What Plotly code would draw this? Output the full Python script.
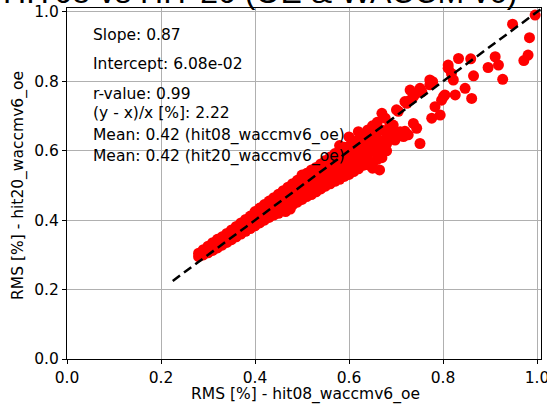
import plotly.graph_objects as go

# Dense band points (x, y)
band_x = [0.28, 0.28, 0.29, 0.29, 0.30, 0.30, 0.31, 0.31, 0.32, 0.32, 0.33, 0.33, 0.34, 0.34,
          0.35, 0.35, 0.35, 0.36, 0.36, 0.36, 0.37, 0.37, 0.37, 0.38, 0.38, 0.38,
          0.39, 0.39, 0.39, 0.40, 0.40, 0.40, 0.41, 0.41, 0.41, 0.42, 0.42, 0.42,
          0.43, 0.43, 0.43, 0.44, 0.44, 0.44,
          0.45, 0.45, 0.45, 0.45, 0.46, 0.46, 0.46, 0.46, 0.47, 0.47, 0.47, 0.47,
          0.48, 0.48, 0.48, 0.48, 0.49, 0.49, 0.49, 0.49, 0.50, 0.50, 0.50, 0.50,
          0.51, 0.51, 0.51, 0.51, 0.52, 0.52, 0.52, 0.52, 0.53, 0.53, 0.53, 0.53,
          0.54, 0.54, 0.54, 0.54, 0.55, 0.55, 0.55, 0.55, 0.56, 0.56, 0.56, 0.56,
          0.57, 0.57, 0.57, 0.57, 0.57, 0.58, 0.58, 0.58, 0.58, 0.58,
          0.59, 0.59, 0.59, 0.59, 0.59, 0.60, 0.60, 0.60, 0.60, 0.60,
          0.61, 0.61, 0.61, 0.61, 0.61, 0.62, 0.62, 0.62, 0.62, 0.62,
          0.63, 0.63, 0.63, 0.63, 0.63, 0.64, 0.64, 0.64, 0.64, 0.64,
          0.65, 0.65, 0.65, 0.65, 0.66, 0.66, 0.66, 0.66,
          0.64, 0.65, 0.66, 0.67, 0.68, 0.665, 0.65, 0.465, 0.475]
band_y = [0.295, 0.305, 0.300, 0.315, 0.306, 0.325, 0.313, 0.335, 0.320, 0.345, 0.328, 0.352, 0.336, 0.362,
          0.344, 0.358, 0.372, 0.352, 0.367, 0.382, 0.360, 0.376, 0.392, 0.368, 0.385, 0.402,
          0.376, 0.394, 0.412, 0.384, 0.404, 0.425, 0.392, 0.413, 0.435, 0.400, 0.422, 0.445,
          0.408, 0.431, 0.455, 0.415, 0.440, 0.465,
          0.420, 0.438, 0.456, 0.475, 0.428, 0.447, 0.466, 0.485, 0.436, 0.456, 0.476, 0.495,
          0.444, 0.464, 0.485, 0.505, 0.452, 0.473, 0.494, 0.515, 0.460, 0.483, 0.507, 0.530,
          0.468, 0.490, 0.513, 0.535, 0.474, 0.498, 0.522, 0.545, 0.482, 0.505, 0.528, 0.552,
          0.490, 0.514, 0.538, 0.562, 0.498, 0.522, 0.547, 0.572, 0.505, 0.530, 0.556, 0.582,
          0.512, 0.532, 0.552, 0.572, 0.592, 0.518, 0.542, 0.566, 0.590, 0.615,
          0.526, 0.547, 0.568, 0.589, 0.610, 0.532, 0.559, 0.586, 0.613, 0.640,
          0.540, 0.562, 0.584, 0.606, 0.628, 0.548, 0.575, 0.601, 0.628, 0.655,
          0.558, 0.580, 0.602, 0.624, 0.645, 0.575, 0.596, 0.618, 0.640, 0.660,
          0.598, 0.623, 0.648, 0.672, 0.612, 0.635, 0.658, 0.682,
          0.560, 0.565, 0.575, 0.580, 0.600, 0.545, 0.550, 0.425, 0.432]

# Sparse upper points
sparse_x = [0.996, 0.948, 0.984, 0.981, 0.972, 0.911, 0.918, 0.896, 0.927, 0.859,
            0.833, 0.865, 0.811, 0.818, 0.822, 0.847, 0.826, 0.861, 0.811, 0.804,
            0.801, 0.797, 0.783, 0.776, 0.794, 0.778, 0.772, 0.772, 0.751, 0.744,
            0.755, 0.730, 0.737, 0.730, 0.723, 0.719, 0.701, 0.705, 0.670, 0.677,
            0.737, 0.744, 0.751, 0.694, 0.716, 0.709, 0.726, 0.719, 0.691, 0.687,
            0.698, 0.645, 0.655, 0.680, 0.670, 0.680, 0.660, 0.670]
sparse_y = [0.991, 0.965, 0.926, 0.876, 0.860, 0.871, 0.847, 0.840, 0.806, 0.865,
            0.866, 0.816, 0.838, 0.823, 0.804, 0.780, 0.761, 0.751, 0.847, 0.761,
            0.756, 0.746, 0.727, 0.694, 0.703, 0.799, 0.804, 0.790, 0.780, 0.766,
            0.770, 0.775, 0.756, 0.746, 0.737, 0.742, 0.718, 0.714, 0.708, 0.694,
            0.679, 0.665, 0.621, 0.674, 0.641, 0.655, 0.646, 0.656, 0.655, 0.674,
            0.631, 0.631, 0.650, 0.640, 0.660, 0.620, 0.600, 0.620]

x_vals = band_x + sparse_x
y_vals = band_y + sparse_y

line_x = [0.225, 1.02]
line_y = [0.225, 1.02]

tick_vals = [0.0, 0.2, 0.4, 0.6, 0.8, 1.0]
tick_text = ["0.0", "0.2", "0.4", "0.6", "0.8", "1.0"]

stats_lines = ["Slope: 0.87", "Intercept: 6.08e-02", "r-value: 0.99",
               "(y - x)/x [%]: 2.22", "Mean: 0.42 (hit08_waccmv6_oe)",
               "Mean: 0.42 (hit20_waccmv6_oe)"]
stats_y = [0.934, 0.850, 0.765, 0.708, 0.645, 0.585]

title_text = "HIT08 vs HIT-20 (OE & WACCM v6)"
x_title = "RMS [%] - hit08_waccmv6_oe"
y_title = "RMS [%] - hit20_waccmv6_oe"

FONT = "DejaVu Sans"
FS = 15.5

L, R, T, B = 67, 6, 8, 45
W, H = 547, 404
PW, PH = W - L - R, H - T - B


def px_to_paper_x(px):
    return (px - L) / PW


def px_to_paper_y(py):
    return (H - B - py) / PH


fig = go.Figure()
fig.add_trace(go.Scatter(x=x_vals, y=y_vals, mode="markers",
                         marker=dict(color="#ff0000", size=11, line=dict(width=0)),
                         showlegend=False))
fig.add_trace(go.Scatter(x=line_x, y=line_y, mode="lines",
                         line=dict(color="black", width=2.5, dash="9px,5px"),
                         showlegend=False))

for t, yy in zip(stats_lines, stats_y):
    fig.add_annotation(x=0.051, y=yy, xref="x", yref="y", text=t, showarrow=False,
                       xanchor="left", yanchor="middle",
                       font=dict(family=FONT, size=FS, color="black"))

fig.add_annotation(x=px_to_paper_x(260), y=px_to_paper_y(12), xref="paper", yref="paper",
                   text=title_text, showarrow=False, xanchor="center", yanchor="bottom",
                   font=dict(family="Liberation Sans", size=32, color="black"))

fig.add_annotation(x=px_to_paper_x(305), y=px_to_paper_y(394), xref="paper", yref="paper",
                   text=x_title, showarrow=False, xanchor="center", yanchor="middle",
                   font=dict(family=FONT, size=FS, color="black"))
fig.add_annotation(x=px_to_paper_x(18), y=px_to_paper_y(186), xref="paper", yref="paper",
                   text=y_title, showarrow=False, xanchor="center", yanchor="middle",
                   textangle=-90,
                   font=dict(family=FONT, size=FS, color="black"))

axis_common = dict(
    showgrid=True, gridcolor="#b0b0b0", gridwidth=1,
    showline=True, linecolor="black", linewidth=1.2, mirror=True,
    ticks="outside", ticklen=4, tickcolor="black", tickwidth=1,
    tickvals=tick_vals, ticktext=tick_text,
    tickfont=dict(family=FONT, size=FS, color="black"),
    zeroline=False, automargin=False, ticklabeloverflow="allow",
)

fig.update_layout(
    width=W, height=H,
    margin=dict(l=L, r=R, t=T, b=B),
    paper_bgcolor="white", plot_bgcolor="white",
    xaxis=dict(range=[0, 1.0085], **axis_common),
    yaxis=dict(range=[0, 1.0115], **axis_common),
)

fig.write_html("out.html",
               config={"displayModeBar": False},
               post_script="document.body.style.margin='0';document.body.style.padding='0';document.body.style.overflow='hidden';")
